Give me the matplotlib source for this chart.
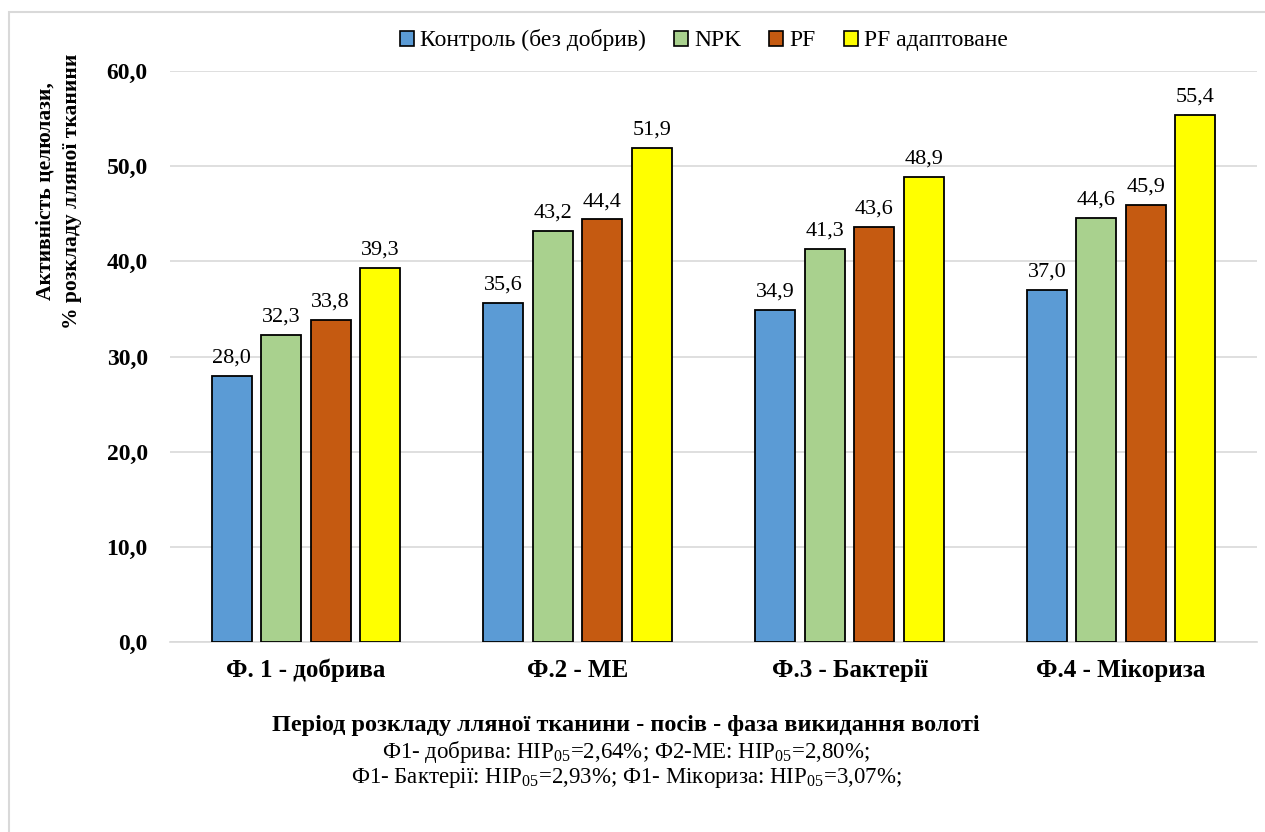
import numpy as np
import matplotlib.pyplot as plt
from matplotlib.patches import Rectangle

plt.rcParams['font.family'] = ['Liberation Serif', 'DejaVu Serif']
plt.rcParams['mathtext.fontset'] = 'custom'
plt.rcParams['mathtext.rm'] = 'Liberation Serif'

# data
categories = ['Ф. 1 - добрива', 'Ф.2 - МЕ', 'Ф.3 - Бактерії', 'Ф.4 - Мікориза']
series_names = ['Контроль (без добрив)', 'NPK', 'PF', 'PF адаптоване']
kontrol = [28.0, 35.6, 34.9, 37.0]
npk = [32.3, 43.2, 41.3, 44.6]
pf = [33.8, 44.4, 43.6, 45.9]
pf_adapt = [39.3, 51.9, 48.9, 55.4]
yticks = [0, 10, 20, 30, 40, 50, 60]

colors = ['#5B9BD5', '#A9D18E', '#C55A11', '#FFFF00']

fig = plt.figure(figsize=(12.65, 8.32), dpi=100)
ax = fig.add_axes([170 / 1265, 1 - 642 / 832, (1257 - 170) / 1265, (642 - 71) / 832])

x = np.arange(len(categories))
width = 0.147
step = 0.182
offsets = (np.arange(4) - 1.5) * step

for i, vals in enumerate([kontrol, npk, pf, pf_adapt]):
    bars = ax.bar(x + offsets[i], vals, width, color=colors[i], edgecolor='black',
                  linewidth=1.3, label=series_names[i], zorder=3)
    ax.bar_label(bars, labels=[f'{v:.1f}'.replace('.', ',') for v in vals],
                 padding=6, fontsize=16)

ax.set_xlim(-0.5, 3.5)
ax.set_ylim(0, 60)
ax.set_yticks(yticks)
ax.set_yticklabels([f'{v:.1f}'.replace('.', ',') for v in yticks],
                   fontsize=17, fontweight='bold')
ax.set_xticks(x)
ax.set_xticklabels(categories, fontsize=18, fontweight='bold')
ax.tick_params(axis='y', length=0, pad=16)
ax.tick_params(axis='x', length=0, pad=12)
ax.grid(axis='y', color='#D9D9D9', linewidth=1.2, zorder=0)
for side in ['top', 'right', 'left']:
    ax.spines[side].set_visible(False)
ax.spines['bottom'].set_color('#D9D9D9')
ax.spines['bottom'].set_linewidth(1.2)

fig.text(59 / 1265, 1 - 191 / 832, 'Активність целюлази,\n% розкладу лляної тканини',
         rotation=90, ha='center', va='center', fontsize=15.5, fontweight='bold',
         linespacing=1.4)

leg = ax.legend(loc='upper center', bbox_to_anchor=(0.491, 1.11), ncol=4,
                frameon=False, fontsize=17, handlelength=0.6, handleheight=0.6,
                handletextpad=0.25, columnspacing=1.2)
for h in leg.legend_handles:
    h.set_linewidth(1.2)

fig.text(626 / 1265, 1 - 725 / 832, 'Період розкладу лляної тканини - посів - фаза викидання волоті',
         ha='center', va='center', fontsize=17.5, fontweight='bold')
fig.text(626 / 1265, 1 - 752 / 832, 'Ф1- добрива: НІР$_{05}$=2,64%; Ф2-МЕ: НІР$_{05}$=2,80%;',
         ha='center', va='center', fontsize=16.5)
fig.text(626 / 1265, 1 - 778 / 832, 'Ф1- Бактерії: НІР$_{05}$=2,93%; Ф1- Мікориза: НІР$_{05}$=3,07%;',
         ha='center', va='center', fontsize=16.5)

# chart area border
fig.patches.append(Rectangle((9 / 1265, -0.1), 1.2, 1.1 - 12 / 832,
                             transform=fig.transFigure, fill=False,
                             edgecolor='#D9D9D9', linewidth=1.5))

fig.savefig('out.png', dpi=100)
